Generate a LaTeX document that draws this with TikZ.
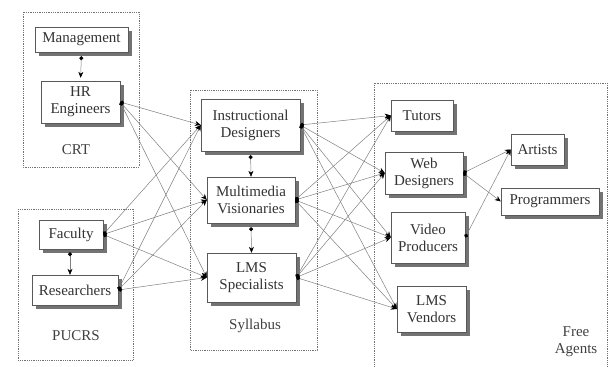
\documentclass[tikz,border=0pt]{standalone}
\usepackage{fontspec}
\setmainfont{Liberation Serif}
\usetikzlibrary{arrows.meta,shadows}
\tikzset{
  org box/.style={
    rectangle,
    draw=black!65,
    thin,
    fill=white,
    align=center,
    font=\fontsize{15}{17}\selectfont,
    text=black!80,
    inner xsep=5pt,
    inner ysep=3pt,
    drop shadow={shadow xshift=4pt, shadow yshift=-4pt, fill=black!55, opacity=1},
  },
  org group/.style={draw=black!55, densely dotted, line width=0.8pt},
  org label/.style={font=\fontsize{15}{17}\selectfont, text=black!75, align=center},
  org link/.style={
    {Circle[length=4pt,color=black]}-{Stealth[length=6pt,width=5pt,color=black]},
    draw=black!50,
    line width=0.5pt,
  },
}

\begin{document}
\begin{tikzpicture}[x=1pt,y=-1pt]
  \useasboundingbox (0,0) rectangle (609,366);

  % groups
  \draw[org group] (23,12) rectangle (139,167);
  \draw[org group] (18,209) rectangle (133,360);
  \draw[org group] (190,90) rectangle (317,350);
  \draw[org group] (374,372) |- (607,83) -- (607,372);

  % CRT
  \node[org box,minimum width=93pt,minimum height=25pt] (mgmt) at (81.5,39.5) {Management};
  \node[org box,minimum width=79pt,minimum height=42pt] (hr) at (80.5,102) {HR\\Engineers};
  \node[org label] (crt) at (76,150) {CRT};

  % PUCRS
  \node[org box,minimum width=64pt,minimum height=29pt] (fac) at (71,234.5) {Faculty};
  \node[org box,minimum width=86pt,minimum height=30pt] (res) at (75,290) {Researchers};
  \node[org label] (pucrs) at (76,336) {PUCRS};

  % Syllabus
  \node[org box,minimum width=99pt,minimum height=52pt] (instr) at (250.5,125) {Instructional\\Designers};
  \node[org box,minimum width=88pt,minimum height=46pt] (multi) at (251,200) {Multimedia\\Visionaries};
  \node[org box,minimum width=89pt,minimum height=49pt] (lmss) at (251.5,277.5) {LMS\\Specialists};
  \node[org label] (syl) at (255,326) {Syllabus};

  % Free Agents
  \node[org box,minimum width=62pt,minimum height=31pt] (tutors) at (422,115.5) {Tutors};
  \node[org box,minimum width=78pt,minimum height=42pt] (web) at (424,173) {Web\\Designers};
  \node[org box,minimum width=74pt,minimum height=51pt] (video) at (428,237.5) {Video\\Producers};
  \node[org box,minimum width=69pt,minimum height=46pt] (lmsv) at (431.5,309) {LMS\\Vendors};
  \node[org box,minimum width=53pt,minimum height=31pt] (artists) at (537.5,149.5) {Artists};
  \node[org box,minimum width=98pt,minimum height=27pt] (prog) at (550,201.5) {Programmers};
  \node[org label] (free) at (576,342) {Free\\Agents};

  % links inside groups
  \draw[org link,shorten <=4pt,shorten >=3pt] (mgmt.south) -- (hr.north);
  \draw[org link,shorten <=3pt] (fac.south -| 70,0) -- (res.north -| 70,0);
  \draw[org link,shorten <=4pt] (instr.south) -- (multi.north);
  \draw[org link,shorten <=4pt] (multi.south) -- (lmss.north);

  % links between groups
  \foreach \src in {hr,fac,res}
    \foreach \dst in {instr,multi,lmss}
      \draw[org link] (\src.east) -- (\dst.west);
  \foreach \src in {instr,multi,lmss}
    \foreach \dst in {tutors,web,video,lmsv}
      \draw[org link] (\src.east) -- (\dst.west);
  \draw[org link] (web.east) -- (artists.west);
  \draw[org link] (web.east) -- (prog.west);
  \draw[org link] (video.east) -- (artists.west);
\end{tikzpicture}
\end{document}
